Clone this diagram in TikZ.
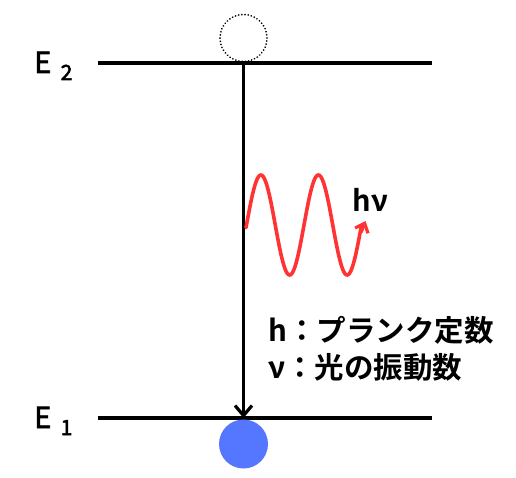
\documentclass[tikz,border=0pt]{standalone}
\usepackage{fontspec}
\setmainfont{Noto Sans CJK JP}
\newfontfamily\jpbold{Noto Sans CJK JP Bold}
\newfontfamily\emed[FakeBold=2.5]{Noto Sans CJK JP}
\usetikzlibrary{arrows.meta}
\definecolor{wavered}{HTML}{FF3333}
\definecolor{ballblue}{HTML}{5577FF}
\tikzset{
  level/.style={line width=3.8pt},
  trans/.style={line width=3.4pt,-{Straight Barb[length=10pt,width=17pt,line width=3.2pt]}},
  wave/.style={line width=3.6pt,wavered,line cap=round},
  lbl/.style={inner sep=0pt,anchor=base west},
}
\begin{document}
\begin{tikzpicture}[x=1pt,y=-1pt]
\useasboundingbox (0,0) rectangle (516,478);
% levels
\coordinate (e2l) at (98,63);
\coordinate (e2r) at (432,63);
\coordinate (e1l) at (98,418);
\coordinate (e1r) at (432,418);
\draw[level] (e2l) -- (e2r);
\draw[level] (e1l) -- (e1r);
% electrons
\node[circle,draw,line width=1.9pt,dash pattern=on 0.01pt off 3.2pt,line cap=round,minimum size=47pt,inner sep=0pt] (up) at (243.5,38) {};
\node[circle,fill=ballblue,minimum size=49pt,inner sep=0pt] (down) at (243.5,444) {};
% transition
\coordinate (top) at (243.5,63);
\coordinate (bot) at (243.5,418);
\draw[trans] (top) -- (bot);
% photon
\draw[wave] plot[domain=246:361,samples=120,smooth] ({\x},{225-50*sin(6.26087*(\x-246.5))});
\coordinate (wend) at (361,232);
\coordinate (wtip) at (365.5,221);
\draw[wave,-{Straight Barb[length=8pt,width=14pt,line width=3.2pt]}] (wend) -- (wtip);
% labels
\node[lbl,font=\emed\fontsize{29}{29}\selectfont] (E2) at (34,73) {E};
\node[lbl,font=\emed\fontsize{21}{21}\selectfont] (E2s) at (60.5,80) {2};
\node[lbl,font=\emed\fontsize{29}{29}\selectfont] (E1) at (34,428) {E};
\node[lbl,font=\emed\fontsize{21}{21}\selectfont] (E1s) at (60.5,435) {1};
\node[lbl,font=\jpbold\fontsize{29}{29}\selectfont] (hnu) at (352.5,212) {hν};
\node[lbl,font=\jpbold\fontsize{29.5}{29.5}\selectfont] (t1) at (268,341) {h：プランク定数};
\node[lbl,font=\jpbold\fontsize{29.5}{29.5}\selectfont] (t2) at (268,378) {ν：光の振動数};
\end{tikzpicture}
\end{document}
